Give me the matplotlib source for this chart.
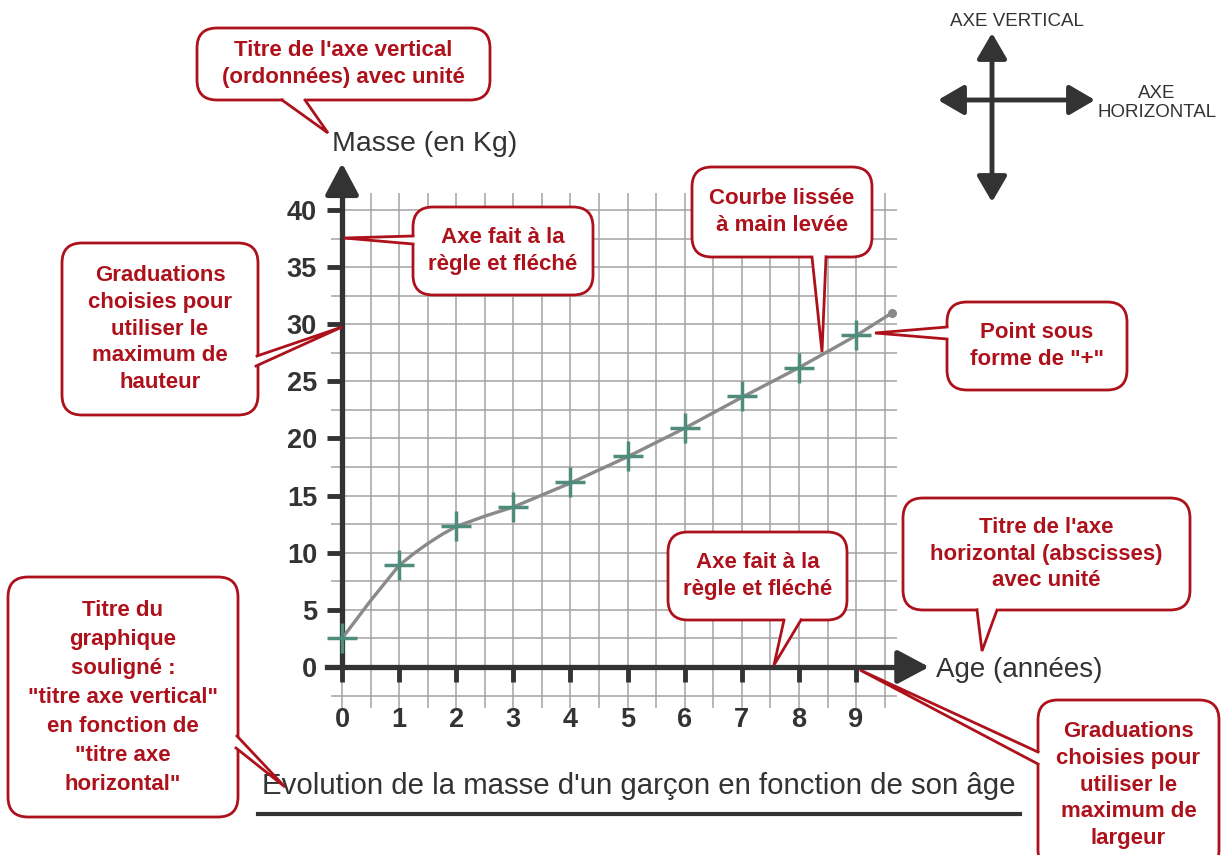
import numpy as np
import matplotlib.pyplot as plt
from matplotlib.patches import FancyBboxPatch, Polygon

plt.rcParams['font.family'] = ['Liberation Sans', 'DejaVu Sans']

# mesures (points "+")
ages = [0, 1, 2, 3, 4, 5, 6, 7, 8, 9]
masses = [2.5, 8.9, 12.3, 14.0, 16.2, 18.5, 20.9, 23.7, 26.2, 29.1]

# courbe lissée à main levée
curve_x = [0, 0.5, 1.0, 1.25, 1.5, 1.75, 2.0, 2.5, 3, 4, 5, 6, 7, 8, 9, 9.63]
curve_y = [2.5, 5.8, 8.9, 9.9, 10.8, 11.6, 12.3, 13.2, 14.0, 16.1, 18.4, 20.9, 23.6, 26.2, 29.0, 31.0]

x_ticks = list(range(10))
y_ticks = list(range(0, 41, 5))

title = "Evolution de la masse d'un garçon en fonction de son âge"
ylabel = "Masse (en Kg)"
xlabel = "Age (années)"

RED = '#ad111b'
DARK = '#333333'
GRID = '#a3a3a3'

fig = plt.figure(figsize=(12.21, 8.55), dpi=100)
ax = fig.add_axes([0.2544, 0.1598, 0.5122, 0.6614])
ax.set_xlim(-0.55, 10.4)
ax.set_ylim(-4.5, 45)
ax.patch.set_alpha(0)

# quadrillage
ax.vlines(np.arange(0, 9.51, 0.5), -3.6, 41.5, color=GRID, lw=1.1, zorder=0)
ax.hlines(np.arange(-2.5, 40.1, 2.5), -0.2, 9.72, color=GRID, lw=1.1, zorder=0)

# axes fléchés
for side in ['top', 'right']:
    ax.spines[side].set_visible(False)
ax.spines['left'].set_position(('data', 0))
ax.spines['bottom'].set_position(('data', 0))
ax.spines['left'].set_bounds(0, 42.5)
ax.spines['bottom'].set_bounds(-0.26, 9.9)
for side in ['left', 'bottom']:
    ax.spines[side].set_linewidth(3.8)
    ax.spines[side].set_color(DARK)
    ax.spines[side].set_zorder(3)
arrow = dict(arrowstyle='-|>,head_length=0.6,head_width=0.32', mutation_scale=32,
             lw=3.8, color=DARK, shrinkA=0, shrinkB=0)
ax.annotate('', xy=(0, 44.1), xytext=(0, 42), arrowprops=arrow, annotation_clip=False)
ax.annotate('', xy=(10.28, 0), xytext=(9.8, 0), arrowprops=arrow, annotation_clip=False)

ax.set_xticks(x_ticks)
ax.set_yticks(y_ticks)
ax.tick_params(direction='out', length=11, width=3.5, color=DARK,
               labelsize=19.5, labelcolor=DARK)
ax.tick_params(axis='x', pad=18)
ax.tick_params(axis='y', pad=7)
for lab in ax.get_xticklabels() + ax.get_yticklabels():
    lab.set_fontweight('bold')

# courbe + points
ax.plot(curve_x, curve_y, color='#8a8a8a', lw=2.4, solid_capstyle='round', zorder=4)
ax.plot(curve_x[-1], curve_y[-1], 'o', ms=5.5, color='#8a8a8a', zorder=4)
ax.plot(ages, masses, '+', ms=22, mew=2.5, color='#4f8c7b', zorder=5)

# calque d'annotations en pixels
deco = fig.add_axes([0, 0, 1, 1])
deco.set_xlim(0, 1221)
deco.set_ylim(855, 0)
deco.axis('off')
deco.set_zorder(5)
deco.patch.set_alpha(0)

deco.text(332, 144, ylabel, fontsize=20.5, color=DARK, ha='left', va='center')
deco.text(936, 670, xlabel, fontsize=20, color=DARK, ha='left', va='center')
deco.text(639, 786, title, fontsize=21.2, color=DARK, ha='center', va='center')
deco.plot([258, 1020], [814, 814], color=DARK, lw=3)


def callout(x0, y0, x1, y1, text, b1, b2, tip, fs=16, ls=1.35):
    box = FancyBboxPatch((x0, y0), x1 - x0, y1 - y0,
                         boxstyle='round,pad=0,rounding_size=20',
                         fc='white', ec=RED, lw=2, zorder=2)
    deco.add_patch(box)
    cx, cy = (x0 + x1) / 2, (y0 + y1) / 2
    inner = []
    for bx, by in (b1, b2):
        dx, dy = cx - bx, cy - by
        d = np.hypot(dx, dy)
        inner.append((bx + 6 * dx / d, by + 6 * dy / d))
    deco.add_patch(Polygon([inner[0], b1, tip, b2, inner[1]], closed=True,
                           fc='white', ec='none', zorder=3))
    deco.plot([b1[0], tip[0], b2[0]], [b1[1], tip[1], b2[1]], color=RED, lw=2,
              zorder=4, solid_joinstyle='miter')
    deco.text(cx, cy, text, fontsize=fs, fontweight='bold', color=RED,
              ha='center', va='center', linespacing=ls, zorder=5)


callout(197, 28, 490, 100, "Titre de l'axe vertical\n(ordonnées) avec unité",
        (282, 100), (305, 100), (328, 133))
callout(413, 207, 593, 295, "Axe fait à la\nrègle et fléché",
        (413, 236), (413, 244), (344, 238))
callout(62, 243, 258, 415, "Graduations\nchoisies pour\nutiliser le\nmaximum de\nhauteur",
        (257, 356), (256, 366), (342, 327))
callout(692, 167, 872, 257, "Courbe lissée\nà main levée",
        (812, 257), (826, 257), (822, 352))
callout(947, 302, 1127, 390, "Point sous\nforme de \"+\"",
        (947, 327), (947, 339), (875, 333))
callout(903, 498, 1190, 610, "Titre de l'axe\nhorizontal (abscisses)\navec unité",
        (977, 610), (997, 610), (982, 651))
callout(668, 532, 847, 620, "Axe fait à la\nrègle et fléché",
        (784, 620), (801, 620), (774, 665))
callout(8, 577, 238, 817,
        "Titre du\ngraphique\nsouligné :\n\"titre axe vertical\"\nen fonction de\n\"titre axe\nhorizontal\"",
        (237, 736), (236, 748), (285, 787), ls=1.5)
callout(1038, 700, 1219, 870, "Graduations\nchoisies pour\nutiliser le\nmaximum de\nlargeur",
        (1038, 752), (1038, 764), (860, 670))

# repère en haut à droite
both = dict(arrowstyle='<|-|>,head_length=0.6,head_width=0.35', mutation_scale=26,
            lw=3.5, color=DARK, shrinkA=0, shrinkB=0)
deco.annotate('', xy=(992, 33), xytext=(992, 202), arrowprops=both)
deco.annotate('', xy=(938, 100), xytext=(1095, 100), arrowprops=both)
deco.text(1017, 22, "AXE VERTICAL", fontsize=13.5, color=DARK, ha='center', va='center')
deco.text(1157, 103, "AXE\nHORIZONTAL", fontsize=13.5, color=DARK, ha='center',
          va='center', linespacing=1.1)

fig.savefig('out.png', dpi=100, facecolor='white')
